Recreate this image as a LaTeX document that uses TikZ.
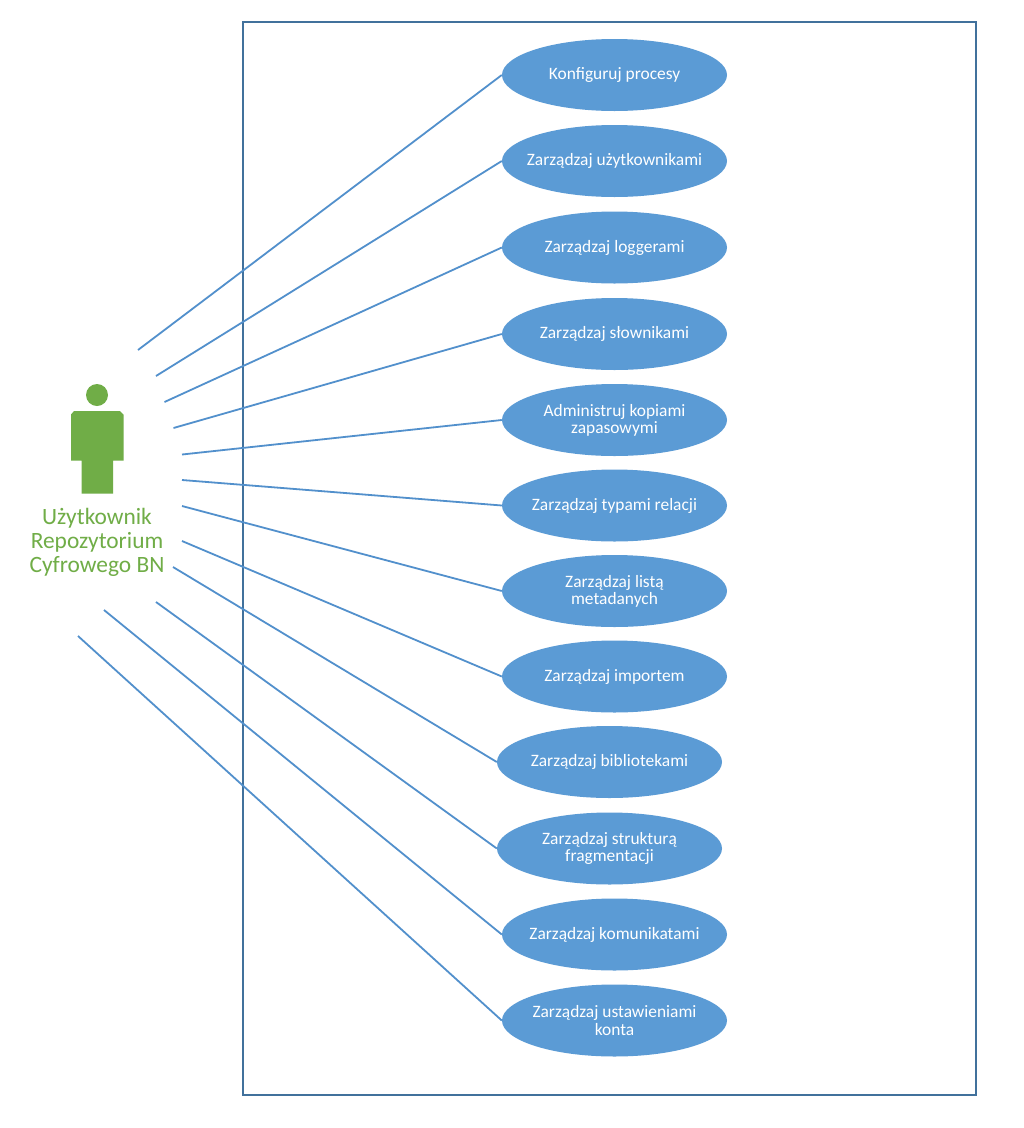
\documentclass[tikz,border=0pt]{standalone}
\usepackage{fontspec}
\setmainfont{Carlito}
\usetikzlibrary{shapes.geometric}
\definecolor{usefill}{HTML}{5B9BD5}
\definecolor{linkblue}{HTML}{5290CC}
\definecolor{frameblue}{HTML}{41719C}
\definecolor{actorgreen}{HTML}{70AD47}
\tikzset{
  usecase/.style={ellipse,fill=usefill,draw=none,text=white,minimum width=225pt,minimum height=72pt,inner xsep=-25pt,inner ysep=-8pt,align=center,font=\fontsize{17.4pt}{17.2pt}\selectfont},
  link/.style={draw=linkblue,line width=1.8pt},
  frame/.style={draw=frameblue,line width=2pt},
  actor/.style={fill=actorgreen,draw=none},
  actorlabel/.style={text=actorgreen,align=center,inner sep=0pt,font=\fontsize{23.4pt}{24pt}\selectfont}
}
\begin{document}
\begin{tikzpicture}[x=1pt,y=-1pt]
\useasboundingbox (0,0) rectangle (1024,1128);
\fill[white] (0,0) rectangle (1024,1128);
\node[frame,minimum width=733pt,minimum height=1073pt,inner sep=0pt,anchor=north west] (sys) at (242,21) {};
\node[usecase] (u1) at (614.5,75) {Konfiguruj procesy};
\node[usecase] (u2) at (614.5,161) {Zarządzaj użytkownikami};
\node[usecase] (u3) at (614.5,247.5) {Zarządzaj loggerami};
\node[usecase] (u4) at (614.5,334) {Zarządzaj słownikami};
\node[usecase] (u5) at (614.5,420) {Administruj kopiami\\zapasowymi};
\node[usecase] (u6) at (614.5,505.5) {Zarządzaj typami relacji};
\node[usecase] (u7) at (614.5,591) {Zarządzaj listą\\metadanych};
\node[usecase] (u8) at (614.5,676.5) {Zarządzaj importem};
\node[usecase] (u9) at (609.5,762) {Zarządzaj bibliotekami};
\node[usecase] (u10) at (609.5,848.5) {Zarządzaj strukturą\\fragmentacji};
\node[usecase] (u11) at (614.5,934.5) {Zarządzaj komunikatami};
\node[usecase] (u12) at (614.5,1020.5) {Zarządzaj ustawieniami\\konta};
\coordinate (c1) at (138,350);
\coordinate (c2) at (156,376);
\coordinate (c3) at (164.5,402);
\coordinate (c4) at (173.5,428);
\coordinate (c5) at (182,454.5);
\coordinate (c6) at (182,480);
\coordinate (c7) at (182,506);
\coordinate (c8) at (182,541);
\coordinate (c9) at (173,567);
\coordinate (c10) at (156,602);
\coordinate (c11) at (104,610);
\coordinate (c12) at (78,636);
\foreach \i in {1,...,12} \draw[link] (c\i) -- (u\i.west);
\fill[actor] (97,395) circle (11);
\fill[actor] (74,411) -- (120,411) -- (123.5,414.5) -- (123.5,460.5) -- (113,460.5) -- (113,493.5) -- (81.5,493.5) -- (81.5,460.5) -- (71,460.5) -- (71,414.5) -- cycle;
\node[actorlabel] (who) at (97,542) {Użytkownik\\Repozytorium\\Cyfrowego BN};
\end{tikzpicture}
\end{document}
